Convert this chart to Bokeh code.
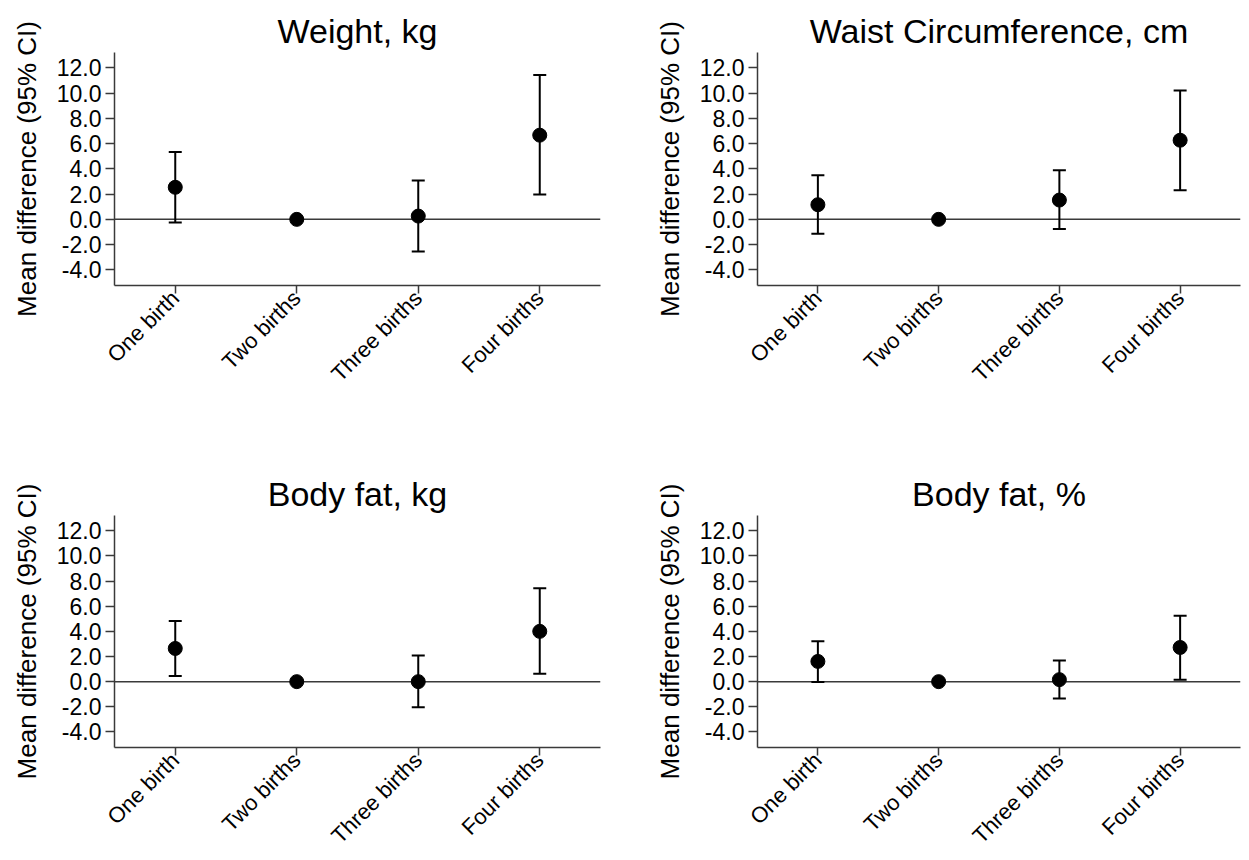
import math
from bokeh.plotting import figure
from bokeh.models import (ColumnDataSource, Whisker, TeeHead, Span, FixedTicker,
                          PrintfTickFormatter, Range1d)
from bokeh.layouts import gridplot
from bokeh.embed import file_html
from bokeh.resources import INLINE

categories = ["One birth", "Two births", "Three births", "Four births"]
titles = ["Weight, kg", "Waist Circumference, cm", "Body fat, kg", "Body fat, %"]

weight_mean = [2.54, 0.0, 0.26, 6.67]
weight_lower = [-0.24, 0.0, -2.54, 1.96]
weight_upper = [5.34, 0.0, 3.07, 11.43]

waist_mean = [1.16, 0.0, 1.53, 6.27]
waist_lower = [-1.14, 0.0, -0.77, 2.30]
waist_upper = [3.49, 0.0, 3.89, 10.21]

fatkg_mean = [2.64, 0.0, 0.0, 4.0]
fatkg_lower = [0.45, 0.0, -2.03, 0.63]
fatkg_upper = [4.82, 0.0, 2.08, 7.44]

fatpct_mean = [1.61, 0.0, 0.16, 2.72]
fatpct_lower = [-0.03, 0.0, -1.35, 0.16]
fatpct_upper = [3.22, 0.0, 1.69, 5.25]

y_ticks = [-4, -2, 0, 2, 4, 6, 8, 10, 12]
y_label = "Mean difference (95% CI)"

FONT = "Liberation Sans"
AXIS_COLOR = "#3a3a3a"


def make_panel(title, mean, lower, upper, width, height, bl, br, bt, bb):
    p = figure(x_range=categories, width=width, height=height,
               output_backend="svg", toolbar_location=None, tools="",
               min_border_left=bl, min_border_right=br,
               min_border_top=bt, min_border_bottom=bb)
    p.y_range = Range1d(-5.24, 13.22)
    p.outline_line_color = None
    p.xgrid.visible = False
    p.ygrid.visible = False
    p.background_fill_color = "white"
    p.border_fill_color = "white"

    p.title.text = title
    p.title.text_font = FONT
    p.title.text_font_size = "34px"
    p.title.text_font_style = "normal"
    p.title.text_color = "black"
    p.title.align = "center"
    p.title.standoff = 6

    for ax in (p.xaxis[0], p.yaxis[0]):
        ax.axis_line_color = AXIS_COLOR
        ax.axis_line_width = 1.5
        ax.major_tick_line_color = AXIS_COLOR
        ax.major_tick_line_width = 1.5
        ax.major_tick_out = 9
        ax.major_tick_in = 0
        ax.minor_tick_line_color = None
        ax.major_label_text_font = FONT
        ax.major_label_text_color = "black"
        ax.major_label_standoff = 4

    xa = p.xaxis[0]
    xa.major_label_orientation = math.pi / 4
    xa.major_label_text_font_size = "22px"
    xa.major_label_standoff = 1
    xa.major_tick_out = 8

    ya = p.yaxis[0]
    ya.ticker = FixedTicker(ticks=y_ticks, minor_ticks=[])
    ya.formatter = PrintfTickFormatter(format="%.1f")
    ya.major_label_text_font_size = "23px"
    ya.axis_label = y_label
    ya.axis_label_text_font = FONT
    ya.axis_label_text_font_size = "26px"
    ya.axis_label_text_font_style = "normal"
    ya.axis_label_text_color = "black"
    ya.axis_label_standoff = 12

    src = ColumnDataSource(dict(cat=categories, mean=mean, lower=lower, upper=upper))

    p.add_layout(Span(location=0, dimension="width", line_color=AXIS_COLOR,
                      line_width=1.5, level="underlay"))
    w = Whisker(base="cat", upper="upper", lower="lower", source=src,
                dimension="height", line_color="black", line_width=2,
                upper_head=TeeHead(size=13, line_color="black", line_width=2),
                lower_head=TeeHead(size=13, line_color="black", line_width=2))
    p.add_layout(w)
    p.scatter("cat", "mean", source=src, size=14, color="black")
    return p


p1 = make_panel(titles[0], weight_mean, weight_lower, weight_upper, 628, 468, 114, 28, 52, 183)
p2 = make_panel(titles[1], waist_mean, waist_lower, waist_upper, 613, 468, 129, 1, 52, 183)
p3 = make_panel(titles[2], fatkg_mean, fatkg_lower, fatkg_upper, 628, 392, 114, 28, 47, 112)
p4 = make_panel(titles[3], fatpct_mean, fatpct_lower, fatpct_upper, 613, 392, 129, 1, 47, 112)

grid = gridplot([[p1, p2], [p3, p4]], toolbar_location=None)

open("out.html", "w").write(file_html(grid, INLINE))
